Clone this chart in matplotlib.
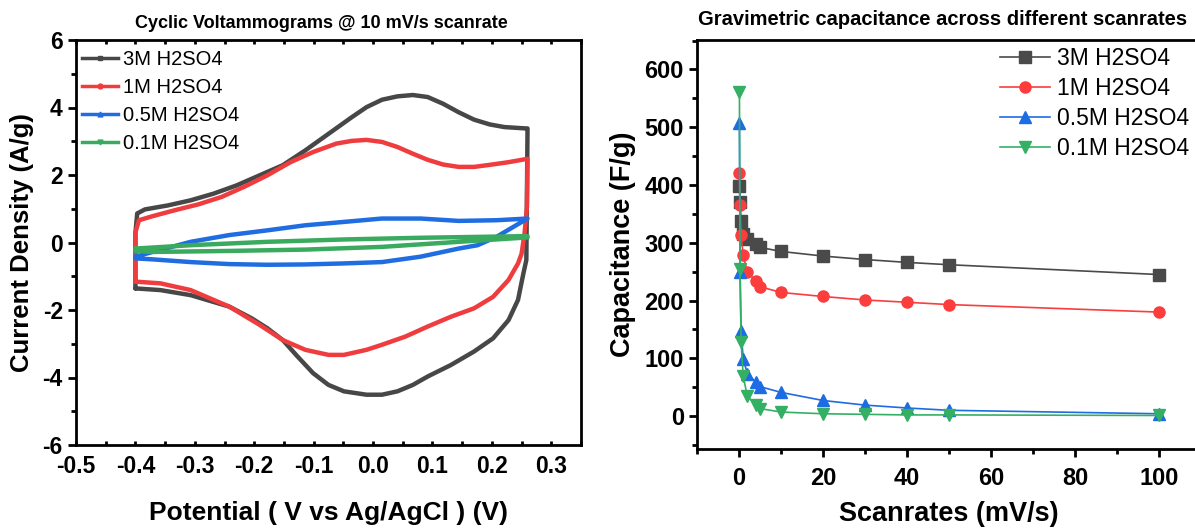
import numpy as np
import matplotlib.pyplot as plt
from matplotlib.lines import Line2D
from matplotlib.ticker import MultipleLocator, FormatStrFormatter

plt.rcParams['font.family'] = ['Liberation Sans', 'DejaVu Sans']
plt.rcParams['axes.unicode_minus'] = False

# ---- CV loops @ 10 mV/s (potential V, current density A/g) ----
v_3m = [-0.400, -0.400, -0.397, -0.384, -0.345, -0.307, -0.268, -0.230, -0.191, -0.152,
        -0.114, -0.075, -0.036, -0.011, 0.015, 0.041, 0.067, 0.092, 0.118, 0.144,
        0.170, 0.196, 0.221, 0.257, 0.260,
        0.258, 0.253, 0.244, 0.228, 0.202, 0.170, 0.131, 0.092, 0.067, 0.041,
        0.015, -0.011, -0.049, -0.075, -0.101, -0.127, -0.152, -0.178, -0.204, -0.242,
        -0.307, -0.358, -0.400, -0.400]
i_3m = [-1.36, 0.27, 0.86, 0.98, 1.10, 1.25, 1.45, 1.69, 1.99, 2.29,
        2.73, 3.22, 3.71, 4.01, 4.23, 4.33, 4.37, 4.31, 4.11, 3.86,
        3.64, 3.50, 3.42, 3.38, 3.38,
        -0.52, -0.92, -1.70, -2.30, -2.84, -3.23, -3.63, -3.97, -4.22, -4.41,
        -4.51, -4.51, -4.41, -4.22, -3.87, -3.38, -2.89, -2.54, -2.25, -1.90,
        -1.56, -1.41, -1.36, -1.36]

v_1m = [-0.400, -0.400, -0.394, -0.371, -0.333, -0.294, -0.255, -0.217, -0.178, -0.139,
        -0.101, -0.062, -0.036, -0.011, 0.015, 0.041, 0.067, 0.092, 0.118, 0.144,
        0.170, 0.196, 0.228, 0.260,
        0.259, 0.255, 0.250, 0.244, 0.228, 0.202, 0.170, 0.131, 0.092, 0.054,
        0.015, -0.011, -0.049, -0.075, -0.114, -0.152, -0.191, -0.242, -0.307, -0.358,
        -0.400, -0.400]
i_1m = [-1.16, 0.30, 0.66, 0.78, 0.96, 1.13, 1.35, 1.65, 1.99, 2.38,
        2.68, 2.93, 3.01, 3.04, 2.98, 2.83, 2.63, 2.45, 2.31, 2.24,
        2.24, 2.30, 2.38, 2.48,
        1.05, 0.27, -0.33, -0.62, -1.11, -1.61, -1.95, -2.20, -2.49, -2.79,
        -3.03, -3.18, -3.33, -3.33, -3.18, -2.89, -2.44, -1.90, -1.41, -1.21,
        -1.16, -1.16]

v_05m = [-0.400, -0.371, -0.307, -0.242, -0.178, -0.114, -0.049, 0.015, 0.080, 0.144,
         0.208, 0.260,
         0.208, 0.176, 0.144, 0.080, 0.015, -0.049, -0.114, -0.178, -0.242, -0.307,
         -0.371, -0.400, -0.400]
i_05m = [-0.42, -0.28, 0.02, 0.22, 0.36, 0.51, 0.61, 0.71, 0.71, 0.64,
         0.66, 0.71,
         0.17, -0.08, -0.18, -0.42, -0.58, -0.62, -0.65, -0.66, -0.64, -0.58,
         -0.50, -0.47, -0.42]

v_01m = [-0.400, -0.307, -0.178, -0.049, 0.080, 0.260,
         0.260, 0.144, 0.015, -0.114, -0.242, -0.371, -0.400, -0.400]
i_01m = [-0.18, -0.08, 0.02, 0.09, 0.14, 0.19,
         0.15, 0.02, -0.13, -0.21, -0.25, -0.28, -0.25, -0.18]

# ---- capacitance vs scan rate ----
scanrates = [0.1, 0.25, 0.5, 1, 2, 4, 5, 10, 20, 30, 40, 50, 100]
cap_3m = [398, 371, 337, 315, 306, 298, 292, 285, 277, 271, 266, 262, 245]
cap_1m = [421, 365, 313, 278, 249, 234, 224, 214, 207, 201, 197, 193, 180]
cap_05m = [508, 249, 147, 99, 73, 59, 51, 41, 27, 19, 14, 10, 4]
cap_01m = [561, 254, 129, 69, 34, 20, 13, 7, 4, 3, 2, 2, 1]

labels = ['3M H2SO4', '1M H2SO4', '0.5M H2SO4', '0.1M H2SO4']
cv_colors = ['#474747', '#ef3c3f', '#1f6de0', '#3aaa5e']
cap_colors = ['#4a4a4a', '#fb3d3d', '#1e6ce3', '#33b063']
markers = ['s', 'o', '^', 'v']

W, H = 1195, 529
fig = plt.figure(figsize=(W / 100, H / 100), dpi=100)
ax1 = fig.add_axes([76 / W, 84 / H, 505 / W, 405 / H])
ax2 = fig.add_axes([697 / W, 80 / H, 504 / W, 409 / H])

# left: CV
for v, i, c in zip([v_3m, v_1m, v_05m, v_01m], [i_3m, i_1m, i_05m, i_01m], cv_colors):
    ax1.plot(v, i, color=c, lw=3.2, solid_joinstyle='round', solid_capstyle='round')

ax1.set_xlim(-0.5, 0.35)
ax1.set_ylim(-6, 6)
ax1.xaxis.set_major_locator(MultipleLocator(0.1))
ax1.xaxis.set_minor_locator(MultipleLocator(0.05))
ax1.xaxis.set_major_formatter(FormatStrFormatter('%.1f'))
ax1.yaxis.set_major_locator(MultipleLocator(2))
ax1.yaxis.set_minor_locator(MultipleLocator(1))
ax1.set_xlabel('Potential ( V vs Ag/AgCl ) (V)', fontsize=19, fontweight='bold', labelpad=17)
ax1.set_ylabel('Current Density (A/g)', fontsize=18.5, fontweight='bold', labelpad=6)
ax1.set_title('Cyclic Voltammograms @ 10 mV/s scanrate', fontsize=13, fontweight='bold',
              pad=9, x=0.485)
ax1.tick_params(axis='both', which='both', direction='out', width=2)
ax1.tick_params(axis='both', which='major', length=6, labelsize=16.5)
ax1.tick_params(axis='x', which='major', pad=7)
ax1.tick_params(axis='both', which='minor', length=3.5)
ax1.tick_params(axis='x', which='minor', top=True, direction='in', length=3)
ax1.tick_params(axis='x', which='major', top=True, direction='in', length=3, labeltop=False)
for lab in ax1.get_xticklabels() + ax1.get_yticklabels():
    lab.set_fontweight('bold')

h1 = [Line2D([], [], color=c, lw=2.5, marker=m, ms=3.5) for c, m in zip(cv_colors, markers)]
ax1.legend(h1, labels, loc='upper left', bbox_to_anchor=(82 / W, 1 - 50 / H),
           bbox_transform=fig.transFigure, frameon=False, fontsize=14.5,
           handlelength=1.8, handletextpad=0.25, labelspacing=0.44,
           borderpad=0, borderaxespad=0)

# right: capacitance
for y, c, m, lab in zip([cap_3m, cap_1m, cap_05m, cap_01m], cap_colors, markers, labels):
    ax2.plot(scanrates, y, color=c, lw=1.2, marker=m, ms=8, mec=c, label=lab)

ax2.set_xlim(-10, 110)
ax2.set_ylim(-57, 651)
ax2.xaxis.set_major_locator(MultipleLocator(20))
ax2.xaxis.set_minor_locator(MultipleLocator(10))
ax2.yaxis.set_major_locator(MultipleLocator(100))
ax2.yaxis.set_minor_locator(MultipleLocator(50))
ax2.set_xlabel('Scanrates (mV/s)', fontsize=19.5, fontweight='bold', labelpad=8)
ax2.set_ylabel('Capacitance (F/g)', fontsize=19.5, fontweight='bold', labelpad=6)
ax2.set_title('Gravimetric capacitance across different scanrates', fontsize=14.5,
              fontweight='bold', pad=11, x=0.487)
ax2.tick_params(axis='both', which='both', direction='out', width=2)
ax2.tick_params(axis='both', which='major', length=6, labelsize=17)
ax2.tick_params(axis='x', which='major', pad=7)
ax2.tick_params(axis='both', which='minor', length=3.5)
for lab in ax2.get_xticklabels() + ax2.get_yticklabels():
    lab.set_fontweight('bold')
ax2.legend(loc='upper left', bbox_to_anchor=(1000 / W, 1 - 47 / H),
           bbox_transform=fig.transFigure, frameon=False, fontsize=16.5,
           handlelength=2.2, handletextpad=0.3, labelspacing=0.3,
           borderpad=0, borderaxespad=0)

for ax in (ax1, ax2):
    for s in ax.spines.values():
        s.set_linewidth(2)

fig.savefig('out.png', dpi=100)
